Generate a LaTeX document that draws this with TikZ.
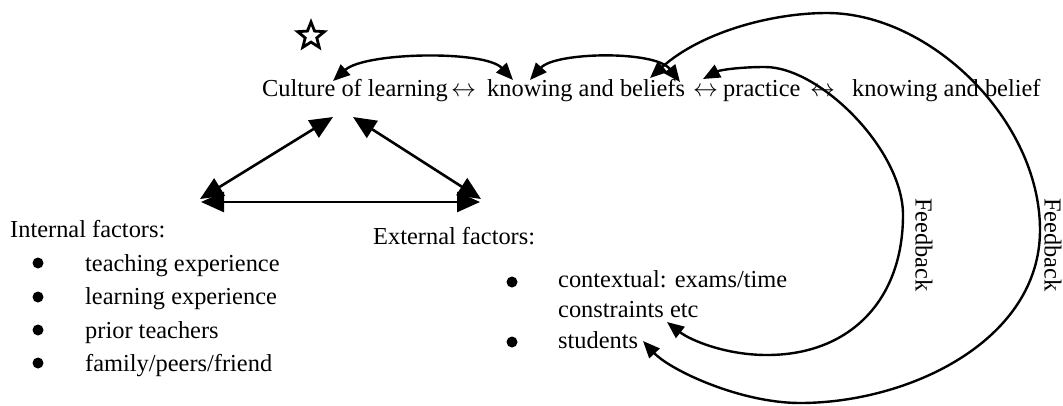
\documentclass[tikz,border=0pt]{standalone}
\usepackage{fontspec}
\setmainfont{Liberation Serif}
\usetikzlibrary{arrows.meta,shapes.geometric}
\tikzset{
  txt/.style={font=\fontsize{24.4}{29.3}\selectfont, inner sep=0pt, anchor=base west},
  fb/.style={font=\fontsize{24.4}{29.3}\selectfont, inner sep=0pt, rotate=-90},
  dot/.style={circle, fill=black, inner sep=0pt, minimum size=11pt},
  arr/.style={line width=2.4pt, {Triangle[length=17pt,width=14pt]}-{Triangle[length=17pt,width=14pt]}},
  tri/.style={line width=2.6pt, {Triangle[length=23pt,width=20pt]}-{Triangle[length=23pt,width=20pt]}}
}
\begin{document}
\begin{tikzpicture}[x=1pt,y=-1pt]
\useasboundingbox (0,0) rectangle (1063,405);

% star
\node[draw, star, star points=5, star point ratio=2.3, line width=2.8pt, minimum size=28pt, inner sep=0pt] (star) at (311,36) {};

% top line
\node[txt] (cul) at (262,96) {Culture of learning};
\node[txt] (ar1) at (451,96) {$\leftrightarrow$};
\node[txt] (kb1) at (487,96) {knowing and beliefs};
\node[txt] (ar2) at (693,96) {$\leftrightarrow$};
\node[txt] (prac) at (723,96) {practice};
\node[txt] (ar3) at (810,96) {$\leftrightarrow$};
\node[txt] (kb2) at (852,96) {knowing and belief};

% internal factors
\node[txt] (int) at (10,237) {Internal factors:};
\node[dot] (b1) at (38,263) {};
\node[dot] (b2) at (38,297) {};
\node[dot] (b3) at (38,330) {};
\node[dot] (b4) at (38,363) {};
\node[txt] (i1) at (85,271) {teaching experience};
\node[txt] (i2) at (85,304.5) {learning experience};
\node[txt] (i3) at (85,338) {prior teachers};
\node[txt] (i4) at (85,371.5) {family/peers/friend};

% external factors
\node[txt] (ext) at (373,244) {External factors:};
\node[dot] (e1) at (512,282) {};
\node[dot] (e2) at (512,342) {};
\node[txt] (ctx1) at (558,287) {contextual: exams/time};
\node[txt] (ctx2) at (558,317) {constraints etc};
\node[txt] (stu) at (558,348) {students};

% feedback labels
\node[fb] (fb1) at (924,245) {Feedback};
\node[fb] (fb2) at (1053,245) {Feedback};

% connector end points
\coordinate (a1s) at (333,81);
\coordinate (a1e) at (513,80);
\coordinate (a2s) at (530,80);
\coordinate (a2e) at (680,82);
\coordinate (os) at (650,78);
\coordinate (oe) at (643,341);
\coordinate (is) at (703,79);
\coordinate (ie) at (667,322);
\coordinate (tl) at (333,117);
\coordinate (tr) at (353,117);
\coordinate (lv) at (200,199);
\coordinate (rv) at (481,199);
\coordinate (bl) at (201,202);
\coordinate (br) at (480,202);

% arcs on top
\draw[arr] (a1s) .. controls (365,52) and (485,50) .. (a1e);
\draw[arr] (a2s) .. controls (555,52) and (655,50) .. (a2e);

% feedback loops
\draw[arr] (os) .. controls (700,33) and (770,13) .. (827,13)
  .. controls (930,13) and (1040,120) .. (1040,230)
  .. controls (1040,340) and (910,403) .. (800,403)
  .. controls (740,403) and (670,370) .. (oe);
\draw[arr] (is) .. controls (720,70) and (740,67) .. (765,67)
  .. controls (820,67) and (903,150) .. (903,215)
  .. controls (903,300) and (850,355) .. (767,355)
  .. controls (725,355) and (690,340) .. (ie);

% triangle
\draw[tri] (tl) -- (lv);
\draw[tri] (tr) -- (rv);
\draw[tri] (bl) -- (br);
\end{tikzpicture}
\end{document}
